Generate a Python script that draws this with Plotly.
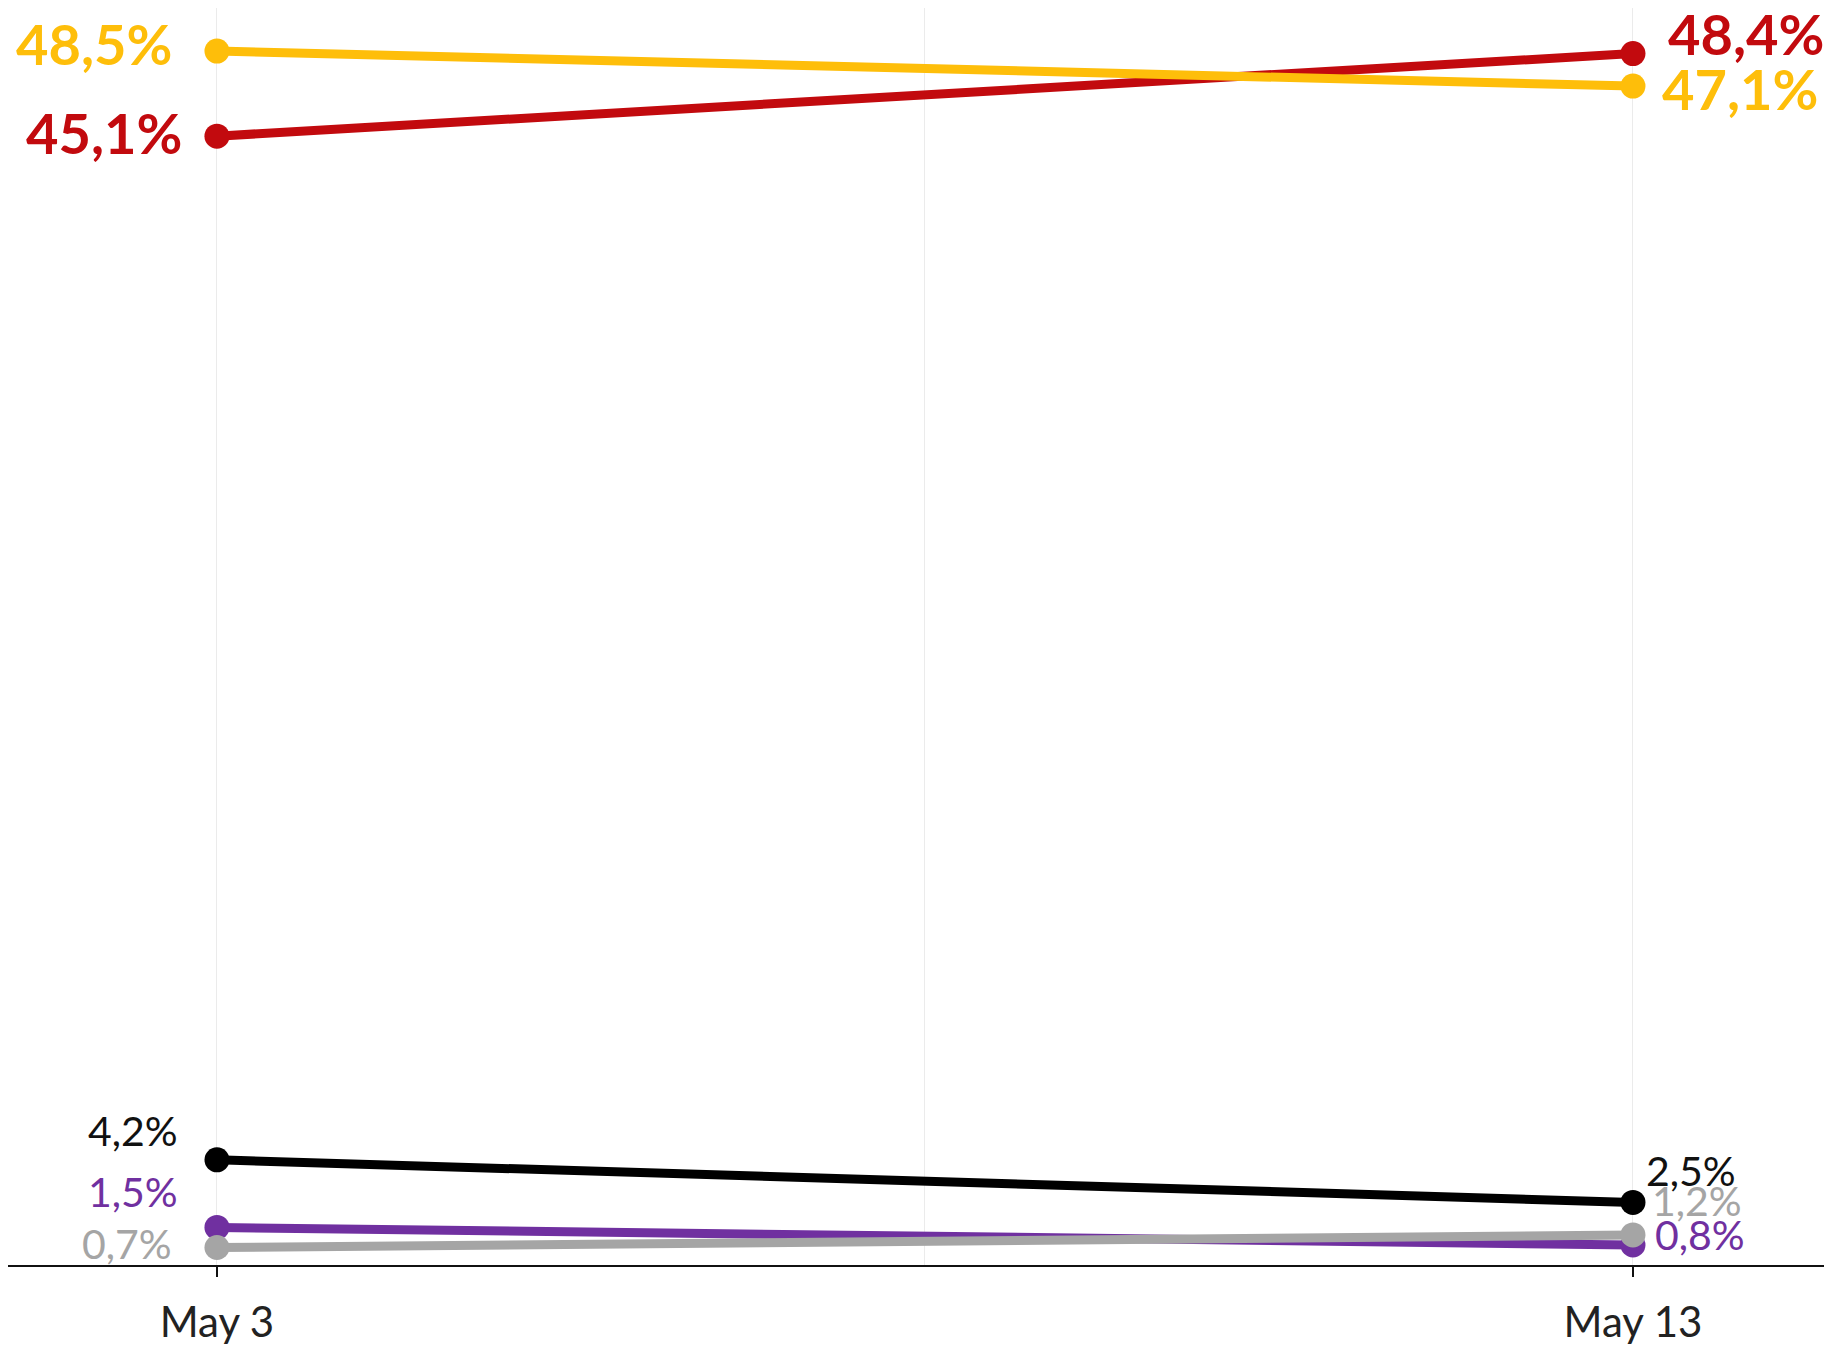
import plotly.graph_objects as go

# ---- data ----
dates = ["2024-05-03", "2024-05-13"]
tick_labels = ["May 3", "May 13"]
series_names = ["Red", "Yellow", "Black", "Purple", "Gray"]
red_values = [45.1, 48.4]
yellow_values = [48.5, 47.1]
black_values = [4.2, 2.5]
purple_values = [1.5, 0.8]
gray_values = [0.7, 1.2]

# ---- styles ----
colors = ["#C20A0E", "#FEBE0A", "#000000", "#7030A0", "#A5A5A5"]
label_colors = ["#C20A0E", "#FEBE0A", "#111111", "#7030A0", "#A5A5A5"]
label_bold = [True, True, False, False, False]
label_size = [56, 56, 41, 41, 41]
# (xshift, yshift) for left and right labels
left_shift = [(-34, 4), (-44, 8), (-38, 29), (-38, 36), (-44, 4)]
right_shift = [(34, 20), (28, -2), (12, 32), (21, 10), (18, 34)]

all_values = [red_values, yellow_values, black_values, purple_values, gray_values]

def fmt(v):
    return f"{v:.1f}".replace(".", ",") + "%"

fig = go.Figure()
for name, vals, col in zip(series_names, all_values, colors):
    fig.add_trace(go.Scatter(
        x=dates, y=vals, mode="lines+markers", name=name,
        line=dict(color=col, width=9),
        marker=dict(color=col, size=25),
        cliponaxis=False, showlegend=False,
    ))

annotations = []
for i, vals in enumerate(all_values):
    fnt = dict(family="Lato", size=label_size[i], color=label_colors[i],
               weight=700 if label_bold[i] else 400)
    annotations.append(dict(
        x=dates[0], y=vals[0], text=fmt(vals[0]), showarrow=False,
        xanchor="right", yanchor="middle", borderpad=0,
        xshift=left_shift[i][0], yshift=left_shift[i][1], font=fnt))
    annotations.append(dict(
        x=dates[1], y=vals[1], text=fmt(vals[1]), showarrow=False,
        xanchor="left", yanchor="middle", borderpad=0,
        xshift=right_shift[i][0], yshift=right_shift[i][1], font=fnt))

fig.update_layout(
    width=1824, height=1348,
    margin=dict(l=0, r=0, t=0, b=91),
    paper_bgcolor="white", plot_bgcolor="white",
    annotations=annotations,
    xaxis=dict(
        type="date", automargin=False,
        range=["2024-05-01 12:35", "2024-05-14 09:44"],
        tickvals=dates, ticktext=tick_labels,
        tickfont=dict(family="Lato", size=42, color="#222222"),
        ticklabelstandoff=10,
        showgrid=True, gridcolor="#EBEBEB", gridwidth=1,
        minor=dict(tickvals=["2024-05-08"], showgrid=True,
                   gridcolor="#EBEBEB", gridwidth=1, ticks=""),
        ticks="outside", ticklen=10, tickwidth=2, tickcolor="#111111",
        showline=True, linecolor="#111111", linewidth=2,
        zeroline=False, fixedrange=True,
    ),
    yaxis=dict(
        range=[0, 50.22], showgrid=False, zeroline=False, automargin=False,
        showticklabels=False, showline=False, fixedrange=True,
    ),
)

fig.write_html("out.html")
